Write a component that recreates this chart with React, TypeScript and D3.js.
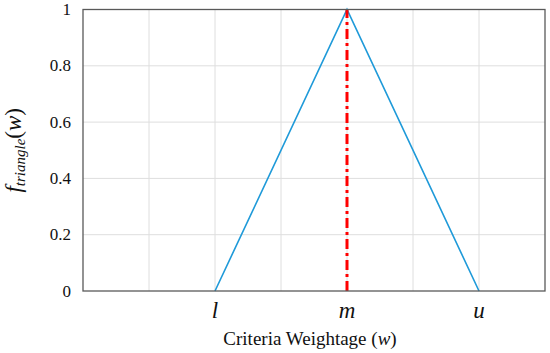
import React, { useEffect, useRef } from 'react';
import * as d3 from 'd3';

// Triangle membership function points
const pointX = [2, 4, 6];
const pointY = [0, 1, 0];
// Vertical dash-dot marker at the peak
const peakX = [4, 4];
const peakY = [0, 1];
// Axes
const xTickValues = [2, 4, 6];
const xTickLabels = ['l', 'm', 'u'];
const xGrid = [0, 1, 2, 3, 4, 5, 6, 7];
const yTicks = [0, 0.2, 0.4, 0.6, 0.8, 1];
const yTickLabels = ['0', '0.2', '0.4', '0.6', '0.8', '1'];

const SERIF = "'Liberation Serif', 'Times New Roman', serif";

const App = () => {
    const svgRef = useRef<SVGSVGElement | null>(null);

    useEffect(() => {
        const width = 550;
        const height = 353;
        const marginLeft = 83;
        const marginRight = 5;
        const marginTop = 9.5;
        const marginBottom = 62;

        const svg = d3.select(svgRef.current);
        svg.selectAll('*').remove();
        svg.attr('width', width).attr('height', height)
            .attr('font-family', SERIF);

        const x = d3.scaleLinear().domain([0, 7]).range([marginLeft, width - marginRight]);
        const y = d3.scaleLinear().domain([0, 1]).range([height - marginBottom, marginTop]);

        // gridlines
        const grid = svg.append('g').attr('stroke', '#dedede').attr('stroke-width', 1);
        xGrid.slice(1, -1).forEach(v => {
            grid.append('line')
                .attr('x1', x(v)).attr('x2', x(v))
                .attr('y1', y(0)).attr('y2', y(1));
        });
        yTicks.slice(1, -1).forEach(v => {
            grid.append('line')
                .attr('x1', x(0)).attr('x2', x(7))
                .attr('y1', y(v)).attr('y2', y(v));
        });

        // triangle
        const line = d3.line<number>()
            .x((_, i) => x(pointX[i]))
            .y(d => y(d));
        svg.append('path')
            .datum(pointY)
            .attr('d', line)
            .attr('fill', 'none')
            .attr('stroke', '#1f9ad9')
            .attr('stroke-width', 1.6);

        // peak marker
        const peakLine = d3.line<number>()
            .x((_, i) => x(peakX[i]))
            .y(d => y(d));
        svg.append('path')
            .datum(peakY)
            .attr('d', peakLine)
            .attr('fill', 'none')
            .attr('stroke', '#ff0000')
            .attr('stroke-width', 3)
            .attr('stroke-dasharray', '10 4 3 4');

        // frame
        svg.append('rect')
            .attr('x', x(0)).attr('y', y(1))
            .attr('width', x(7) - x(0))
            .attr('height', y(0) - y(1))
            .attr('fill', 'none')
            .attr('stroke', '#595959')
            .attr('stroke-width', 1.3);

        // y tick labels
        yTicks.forEach((v, i) => {
            svg.append('text')
                .attr('x', x(0) - 12)
                .attr('y', y(v) + 5.5)
                .attr('text-anchor', 'end')
                .attr('font-size', 17)
                .attr('fill', '#111')
                .text(yTickLabels[i]);
        });

        // x tick labels
        xTickValues.forEach((v, i) => {
            svg.append('text')
                .attr('x', x(v))
                .attr('y', y(0) + 27)
                .attr('text-anchor', 'middle')
                .attr('font-style', 'italic')
                .attr('font-size', 23)
                .attr('fill', '#111')
                .text(xTickLabels[i]);
        });

        // x axis title
        const xt = svg.append('text')
            .attr('x', (x(0) + x(7)) / 2 - 4)
            .attr('y', 345)
            .attr('text-anchor', 'middle')
            .attr('font-size', 19)
            .attr('fill', '#111');
        xt.append('tspan').text('Criteria Weightage (');
        xt.append('tspan').attr('font-style', 'italic').text('w');
        xt.append('tspan').text(')');

        // y axis title
        const yt = svg.append('text')
            .attr('transform', `translate(21, ${(y(0) + y(1)) / 2}) rotate(-90)`)
            .attr('text-anchor', 'middle')
            .attr('font-size', 23)
            .attr('fill', '#111');
        yt.append('tspan').attr('font-style', 'italic').text('f');
        yt.append('tspan').attr('font-style', 'italic').attr('font-size', 15).attr('dy', 4).text('triangle');
        yt.append('tspan').attr('dy', -4).text('(');
        yt.append('tspan').attr('font-style', 'italic').text('w');
        yt.append('tspan').text(')');
    }, []);

    return (
        <div style={{ position: 'absolute', left: 0, top: 0, background: '#fff' }}>
            <svg ref={svgRef} style={{ display: 'block' }}></svg>
        </div>
    );
};

export default App;
